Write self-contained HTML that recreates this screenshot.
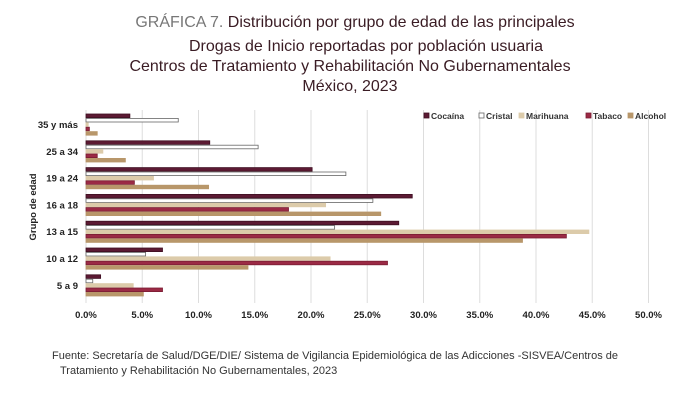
<!DOCTYPE html>
<html><head><meta charset="utf-8"><style>
body{margin:0;background:#fff;width:700px;height:413px;overflow:hidden;font-family:"Liberation Sans",sans-serif}
</style></head><body>
<svg id="s" width="700" height="413" xmlns="http://www.w3.org/2000/svg">
<g font-family="Liberation Sans, sans-serif" font-size="16" fill="#3a1c24" text-anchor="middle">
<text x="355" y="27"><tspan fill="#777">GRÁFICA 7.</tspan> Distribución por grupo de edad de las principales</text>
<text x="366" y="51">Drogas de Inicio reportadas por población usuaria</text>
<text x="350" y="71">Centros de Tratamiento y Rehabilitación No Gubernamentales</text>
<text x="350" y="91">México, 2023</text>
</g>
<g font-size="11" fill="#333">
<text x="52" y="359">Fuente: Secretaría de Salud/DGE/DIE/ Sistema de  Vigilancia Epidemiológica de las Adicciones -SISVEA/Centros de</text>
<text x="60" y="374">Tratamiento y Rehabilitación No Gubernamentales, 2023</text>
</g>
<g id="g"></g>
</svg>
<script>
(function(){
var g=document.getElementById('g'),ns='http://www.w3.org/2000/svg';
function el(t,a,txt){var e=document.createElementNS(ns,t);for(var k in a)e.setAttribute(k,a[k]);if(txt)e.textContent=txt;g.appendChild(e);return e;}
var x0=86,k=11.25;
for(var i=0;i<=10;i++){var x=x0+i*5*k;el('line',{x1:x,x2:x,y1:110,y2:303,stroke:'#ddd','stroke-width':1});
el('text',{x:x,y:318,'font-size':9.5,'font-weight':'bold','text-anchor':'middle',fill:'#222'},(i*5).toFixed(1)+'%');}
var cats=['35 y más','25 a 34','19 a 24','16 a 18','13 a 15','10 a 12','5 a 9'];
var d=[[3.9,8.2,0.2,0.3,1.0],[11.0,15.3,1.5,1.0,3.5],[20.1,23.1,6.0,4.3,10.9],[29.0,25.5,21.3,18.0,26.2],[27.8,22.1,44.7,42.7,38.8],[6.8,5.3,21.7,26.8,14.4],[1.3,0.6,4.2,6.8,5.1]];
var fill=['#5c1a33','#fff','#dccbaa','#9b2a45','#b8976a'],st=['#3f0f22','#666','#dccbaa','#7a1d33','#b8976a'];
for(var c=0;c<7;c++){var ty=114+c*26.8;
el('text',{x:78,y:ty+14,'font-size':9.5,'font-weight':'bold','text-anchor':'end',fill:'#222'},cats[c]);
for(var s=0;s<5;s++){el('rect',{x:x0,y:ty+s*4.4,width:d[c][s]*k,height:3.6,fill:fill[s],stroke:st[s],'stroke-width':0.8});}}
el('text',{x:0,y:0,'font-size':9.5,'font-weight':'bold','text-anchor':'middle',fill:'#222',transform:'translate(36,207) rotate(-90)'},'Grupo de edad');
var names=['Cocaína','Cristal','Marihuana','Tabaco','Alcohol'],lx=[424,479,519,586,628];
for(var s=0;s<5;s++){el('rect',{x:lx[s],y:113,width:5,height:5,fill:fill[s],stroke:st[s],'stroke-width':0.8});
el('text',{x:lx[s]+7,y:119,'font-size':8.5,'font-weight':'bold',fill:'#333'},names[s]);}
})();
</script>
</body></html>
